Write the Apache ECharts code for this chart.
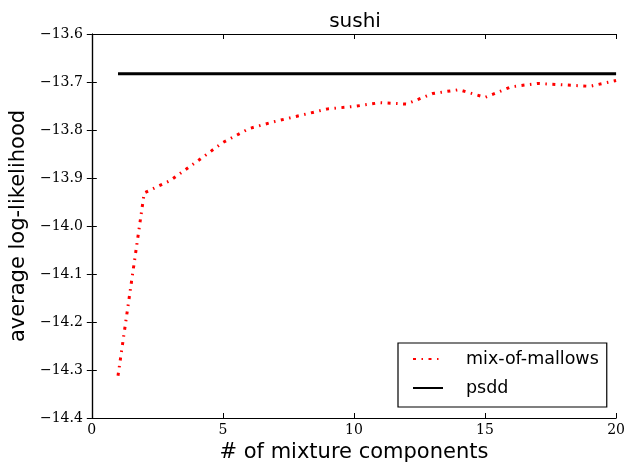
<!DOCTYPE html>
<html>
<head>
<meta charset="utf-8">
<script src="https://cdn.jsdelivr.net/npm/echarts@6/dist/echarts.min.js"></script>
<style>
  html, body { margin: 0; padding: 0; background: #fff; }
  #chart { width: 628px; height: 468px; }
</style>
</head>
<body>
<div id="chart"></div>
<script>
// number of mixture components
const components = [1, 2, 3, 4, 5, 6, 7, 8, 9, 10, 11, 12, 13, 14, 15, 16, 17, 18, 19, 20];
// mix-of-mallows average log-likelihood
const mallows = [-14.312, -13.931, -13.905, -13.866, -13.826, -13.797, -13.782, -13.769, -13.756, -13.751,
  -13.743, -13.746, -13.724, -13.716, -13.732, -13.710, -13.703, -13.706, -13.709, -13.697];
// psdd is flat across all components
const psddValue = -13.683;
const psdd = components.map(() => psddValue);

const xTicks = { min: 0, max: 20, interval: 5 };
const yTicks = { min: -14.4, max: -13.6, interval: 0.1 };

const serif = "'DejaVu Serif', 'Liberation Serif', serif";
const sans = "'DejaVu Sans', 'Liberation Sans', sans-serif";

function minus(v, digits) {
  return v.toFixed(digits).replace("-", "\u2212");
}

const axisLine = { show: true, lineStyle: { color: "#000", width: 1.2 } };
const tick = { show: true, inside: true, length: 5, lineStyle: { color: "#000" } };

const chart = echarts.init(document.getElementById("chart"), null, { renderer: "canvas" });

chart.setOption({
  animation: false,
  backgroundColor: "#fff",
  title: {
    text: "sushi",
    left: 350,
    top: 7,
    textAlign: "center",
    textStyle: { fontFamily: sans, fontSize: 20, fontWeight: "normal", color: "#000" },
  },
  grid: { left: 91, right: 11, top: 34, bottom: 50 },
  legend: {
    orient: "vertical",
    left: 398,
    top: 343,
    padding: [6, 8, 9, 14],
    itemGap: 9,
    itemWidth: 30,
    itemHeight: 14,
    borderColor: "#000",
    borderWidth: 1.2,
    borderRadius: 0,
    backgroundColor: "#fff",
    itemStyle: { opacity: 0 },
    textStyle: { fontFamily: sans, fontSize: 17.5, lineHeight: 20, color: "#000", padding: [0, 0, 0, 18] },
    data: ["mix-of-mallows", "psdd"],
  },
  xAxis: [
    {
      type: "value",
      min: xTicks.min,
      max: xTicks.max,
      interval: xTicks.interval,
      name: "# of mixture components",
      nameLocation: "middle",
      nameGap: 22,
      nameTextStyle: { fontFamily: sans, fontSize: 21, color: "#000" },
      axisLine,
      axisTick: tick,
      axisLabel: { fontFamily: serif, fontSize: 14, color: "#000", margin: 5 },
      splitLine: { show: false },
    },
    {
      type: "value",
      position: "top",
      min: xTicks.min,
      max: xTicks.max,
      interval: xTicks.interval,
      axisLine,
      axisTick: tick,
      axisLabel: { show: false },
      splitLine: { show: false },
    },
  ],
  yAxis: [
    {
      type: "value",
      min: yTicks.min,
      max: yTicks.max,
      interval: yTicks.interval,
      name: "average log-likelihood",
      nameLocation: "middle",
      nameGap: 62,
      nameTextStyle: { fontFamily: sans, fontSize: 21, color: "#000" },
      axisLine,
      axisTick: tick,
      axisLabel: {
        fontFamily: serif,
        fontSize: 14,
        color: "#000",
        margin: 9,
        formatter: (v) => minus(v, 1),
      },
      splitLine: { show: false },
    },
    {
      type: "value",
      position: "right",
      min: yTicks.min,
      max: yTicks.max,
      interval: yTicks.interval,
      axisLine,
      axisTick: tick,
      axisLabel: { show: false },
      splitLine: { show: false },
    },
  ],
  series: [
    {
      name: "mix-of-mallows",
      type: "line",
      data: components.map((c, i) => [c, mallows[i]]),
      showSymbol: false,
      symbol: "none",
      lineStyle: { color: "#ff0000", width: 3, type: [3, 5.5, 1.5, 5.5], cap: "butt" },
      itemStyle: { color: "#ff0000" },
      z: 3,
    },
    {
      name: "psdd",
      type: "line",
      data: components.map((c, i) => [c, psdd[i]]),
      showSymbol: false,
      symbol: "none",
      lineStyle: { color: "#000", width: 3 },
      itemStyle: { color: "#000" },
      z: 2,
    },
  ],
});
</script>
</body>
</html>
